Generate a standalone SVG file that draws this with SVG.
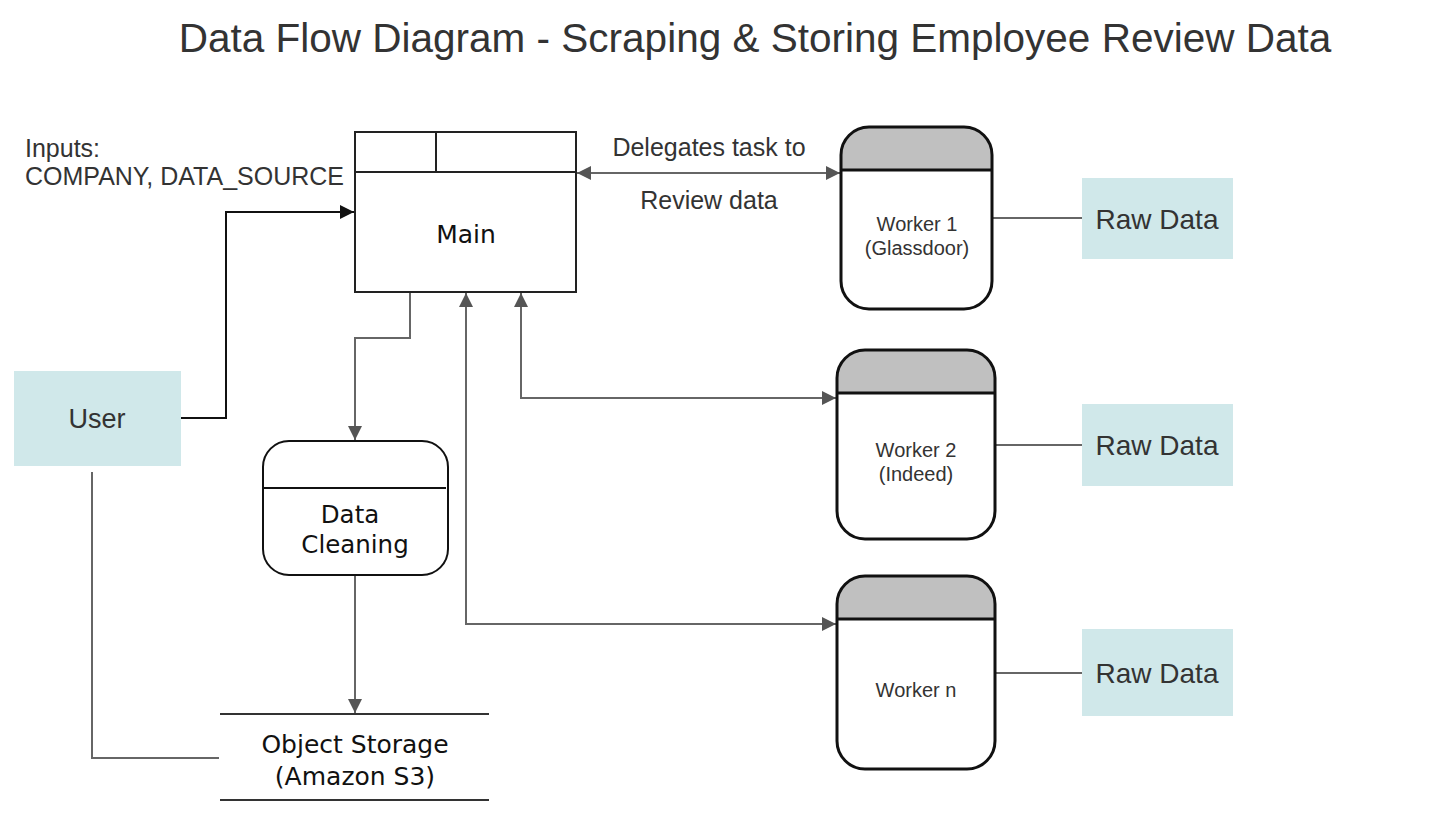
<svg xmlns="http://www.w3.org/2000/svg" width="1434" height="840" viewBox="0 0 1434 840">
<style>
.t{font-family:"Liberation Sans",Arial,sans-serif;fill:#333}
.d{font-family:"DejaVu Sans",Verdana,sans-serif;fill:#111}
.ext{fill:#d0e8ea}
.hd{fill:#c0c0c0}
.c{fill:none;stroke:#666;stroke-width:2}
</style>
<defs>
<marker id="ag" viewBox="0 0 10 10" refX="10" refY="5" markerWidth="17" markerHeight="14" markerUnits="userSpaceOnUse" orient="auto-start-reverse"><path d="M0,0L10,5L0,10Z" fill="#555"/></marker>
<marker id="ab" viewBox="0 0 10 10" refX="10" refY="5" markerWidth="16" markerHeight="14" markerUnits="userSpaceOnUse" orient="auto"><path d="M0,0L10,5L0,10Z" fill="#111"/></marker>
</defs>
<rect width="1434" height="840" fill="#fff"/>
<text class="t" x="755" y="52" font-size="40.5" text-anchor="middle">Data Flow Diagram - Scraping &amp; Storing Employee Review Data</text>
<g id="connectors">
<path d="M181,418H226V212H354" fill="none" stroke="#111" stroke-width="2" marker-end="url(#ab)"/>
<path class="c" d="M92,472V758H219"/>
<path class="c" d="M410,292V338H355V440" marker-end="url(#ag)"/>
<path class="c" d="M355,575V713" marker-end="url(#ag)"/>
<path class="c" d="M836,624H466V293" marker-end="url(#ag)" marker-start="url(#ag)"/>
<path class="c" d="M836,398H521V293" marker-end="url(#ag)" marker-start="url(#ag)"/>
<path class="c" d="M577,173H840" marker-end="url(#ag)" marker-start="url(#ag)"/>
<path class="c" d="M992,218H1082"/>
<path class="c" d="M995,445H1082"/>
<path class="c" d="M995,673H1082"/>
<text class="t" x="709" y="156" font-size="25" text-anchor="middle">Delegates task to</text>
<text class="t" x="709" y="209" font-size="25" text-anchor="middle">Review data</text>
</g>
<g id="inputs">
<text class="t" x="25" y="157" font-size="25">Inputs:</text>
<text class="t" x="25" y="185" font-size="25">COMPANY, DATA_SOURCE</text>
</g>
<g id="main">
<rect x="355" y="132" width="221" height="160" fill="#fff" stroke="#222" stroke-width="2"/>
<path d="M355,172H576M436,132V172" stroke="#222" stroke-width="2" fill="none"/>
<text class="d" x="466" y="243" font-size="25" text-anchor="middle">Main</text>
</g>
<g id="user">
<rect class="ext" x="14" y="371" width="167" height="95"/>
<text class="t" x="97" y="428" font-size="27" text-anchor="middle">User</text>
</g>
<g id="cleaning">
<rect x="263" y="441" width="185" height="134" rx="26" fill="#fff" stroke="#111" stroke-width="2"/>
<path d="M263,488H446" stroke="#111" stroke-width="2"/>
<text class="d" x="350" y="523" font-size="24.5" text-anchor="middle">Data</text>
<text class="d" x="355" y="553" font-size="24.5" text-anchor="middle">Cleaning</text>
</g>
<g id="storage">
<path d="M220,714H489M220,800H489" stroke="#333" stroke-width="2"/>
<text class="d" x="355" y="753" font-size="25" text-anchor="middle">Object Storage</text>
<text class="d" x="355" y="785" font-size="25" text-anchor="middle">(Amazon S3)</text>
</g>
<g id="worker1">
<clipPath id="c1"><rect x="841" y="127" width="151" height="182" rx="28"/></clipPath>
<rect x="841" y="127" width="151" height="182" rx="28" fill="#fff"/>
<rect class="hd" x="841" y="127" width="151" height="43" clip-path="url(#c1)"/>
<rect x="841" y="127" width="151" height="182" rx="28" fill="none" stroke="#111" stroke-width="3"/>
<path d="M841,170H992" stroke="#111" stroke-width="3"/>
<text class="t" x="917" y="231" font-size="20" text-anchor="middle" fill="#111">Worker 1</text>
<text class="t" x="917" y="255" font-size="20" text-anchor="middle">(Glassdoor)</text>
</g>
<g id="worker2">
<clipPath id="c2"><rect x="837" y="350" width="158" height="189" rx="28"/></clipPath>
<rect x="837" y="350" width="158" height="189" rx="28" fill="#fff"/>
<rect class="hd" x="837" y="350" width="158" height="43" clip-path="url(#c2)"/>
<rect x="837" y="350" width="158" height="189" rx="28" fill="none" stroke="#111" stroke-width="3"/>
<path d="M837,393H995" stroke="#111" stroke-width="3"/>
<text class="t" x="916" y="457" font-size="20" text-anchor="middle">Worker 2</text>
<text class="t" x="916" y="481" font-size="20" text-anchor="middle">(Indeed)</text>
</g>
<g id="workern">
<clipPath id="c3"><rect x="837" y="576" width="158" height="193" rx="28"/></clipPath>
<rect x="837" y="576" width="158" height="193" rx="28" fill="#fff"/>
<rect class="hd" x="837" y="576" width="158" height="43" clip-path="url(#c3)"/>
<rect x="837" y="576" width="158" height="193" rx="28" fill="none" stroke="#111" stroke-width="3"/>
<path d="M837,619H995" stroke="#111" stroke-width="3"/>
<text class="t" x="916" y="697" font-size="20" text-anchor="middle">Worker n</text>
</g>
<g id="raw1">
<rect class="ext" x="1082" y="178" width="151" height="81"/>
<text class="t" x="1157" y="229" font-size="28" text-anchor="middle">Raw Data</text>
</g>
<g id="raw2">
<rect class="ext" x="1082" y="404" width="151" height="82"/>
<text class="t" x="1157" y="455" font-size="28" text-anchor="middle">Raw Data</text>
</g>
<g id="raw3">
<rect class="ext" x="1082" y="629" width="151" height="87"/>
<text class="t" x="1157" y="683" font-size="28" text-anchor="middle">Raw Data</text>
</g>
</svg>
